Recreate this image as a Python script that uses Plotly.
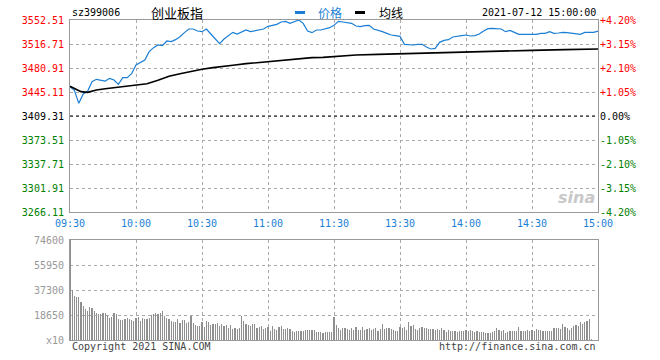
import plotly.graph_objects as go

# ---------------- data ----------------
PREV_CLOSE = 3409.31
price_ticks = [3266.11, 3301.91, 3337.71, 3373.51, 3409.31, 3445.11, 3480.91, 3516.71, 3552.51]
pct_ticks = [-4.20, -3.15, -2.10, -1.05, 0.00, 1.05, 2.10, 3.15, 4.20]
time_ticks = ["09:30", "10:00", "10:30", "11:00", "11:30", "13:30", "14:00", "14:30", "15:00"]
vol_ticks = [0, 18650, 37300, 55950, 74600]
vol_tick_text = ["x10", "18650", "37300", "55950", "74600"]

# price sampled every 2 minutes (09:30 ... 11:30, 13:02 ... 15:00)
price = [
    3453.07, 3447.60, 3428.20, 3442.13, 3446.11, 3460.53, 3464.01, 3463.01, 3461.52, 3465.50,
    3463.01, 3456.55, 3466.49, 3466.49, 3472.46, 3485.39, 3488.87, 3492.85, 3505.28, 3511.25,
    3515.22, 3514.23, 3521.19, 3520.19, 3523.18, 3527.65, 3533.62, 3539.09, 3539.09, 3536.10,
    3535.11, 3539.09, 3531.63, 3524.67, 3517.21, 3524.17, 3529.14, 3534.12, 3531.63, 3535.11,
    3537.60, 3535.11, 3536.10, 3537.60, 3539.09, 3543.06, 3545.05, 3546.05, 3549.53, 3550.52,
    3547.54, 3549.53, 3552.51, 3547.54, 3536.10, 3533.62, 3537.60, 3537.60, 3539.09, 3541.08,
    3544.56, 3550.52, 3549.53, 3548.53, 3547.54, 3543.56, 3542.57, 3544.06, 3544.56, 3539.09,
    3537.60, 3535.11, 3532.62, 3530.14, 3529.14, 3528.15, 3516.22, 3515.22, 3515.22, 3516.22,
    3516.22, 3512.24, 3509.26, 3510.25, 3519.20, 3522.18, 3523.18, 3527.15, 3527.65, 3529.14,
    3530.14, 3528.65, 3529.14, 3531.63, 3536.10, 3539.58, 3540.08, 3539.09, 3539.09, 3535.11,
    3537.10, 3534.12, 3531.13, 3531.13, 3531.13, 3531.63, 3531.13, 3532.62, 3532.62, 3535.11,
    3532.62, 3533.12, 3534.12, 3533.62, 3532.62, 3531.63, 3531.13, 3534.12, 3534.12, 3534.12,
    3536.10,
]

avg_times = ["09:30", "09:35", "09:38", "09:42", "09:46", "09:50", "09:55", "10:00", "10:05", "10:10",
             "10:15", "10:20", "10:25", "10:30", "10:35", "10:40", "10:45", "10:50", "10:55", "11:00",
             "11:05", "11:10", "11:15", "11:20", "11:25", "11:30", "13:10", "13:20", "13:30", "13:40",
             "13:50", "14:00", "14:15", "14:30", "14:45", "15:00"]
avg_price = [3453.57, 3445.61, 3444.62, 3448.09, 3450.08, 3451.58, 3453.07, 3454.56, 3457.54, 3462.52,
             3468.49, 3472.46, 3475.94, 3478.93, 3481.41, 3483.90, 3485.39, 3487.38, 3488.87, 3490.36,
             3492.85, 3494.34, 3495.33, 3496.33, 3496.82, 3498.32, 3500.31, 3501.30, 3502.29, 3502.79,
             3503.78, 3504.78, 3505.77, 3507.26, 3508.26, 3509.25]

# per-minute volume (x10), 09:30 ... 11:30
vol_am = [
    80000, 37000, 33000, 32300, 32300, 28300, 25600, 23400, 21600, 24600,
    23900, 21600, 20100, 19100, 19100, 20100, 20100, 18400, 16700, 17400,
    20100, 19400, 15700, 14900, 14700, 15400, 16700, 15700, 14700, 14200,
    16700, 17200, 14400, 16700, 15700, 15700, 16400, 18700, 19100, 20100,
    19600, 20100, 21600, 18200, 16700, 15400, 14400, 13700, 13200, 15700,
    12400, 15200, 15200, 12700, 13700, 18200, 12400, 11200, 10700, 10700,
    13700, 9700, 14200, 13400, 11400, 12200, 11900, 12700, 10400, 12200,
    10700, 11400, 9200, 11400, 8000, 9000, 8500, 8700, 17900, 14200,
    12200, 11200, 10700, 11900, 11900, 9000, 9700, 10400, 8200, 9200,
    9700, 7000, 10400, 8200, 7500, 9500, 10400, 8200, 8500, 9000,
    8200, 6700, 6200, 6700, 6700, 6700, 6700, 7500, 7500, 7500,
    7500, 7500, 6000, 5700, 5700, 5200, 6000, 6000, 6000, 5700,
    17200,
]
# per-minute volume (x10), 13:01 ... 15:00
vol_pm = [
    11200, 9000, 7500, 8700, 8700, 8200, 7500, 9000, 7500, 9700,
    7500, 7500, 9700, 7500, 8200, 9000, 7500, 8200, 9000, 6700,
    8200, 11900, 8200, 9000, 9000, 8200, 7500, 6700, 6700, 9700,
    9000, 9700, 7500, 13400, 10400, 11200, 8200, 7500, 9000, 9700,
    9000, 9000, 8200, 8200, 8200, 7500, 8200, 7500, 9000, 7500,
    6000, 7500, 6700, 6700, 6700, 6000, 6700, 6700, 6700, 7500,
    6700, 7500, 6700, 6000, 6700, 6000, 6000, 6000, 5200, 5200,
    5200, 6000, 6700, 9000, 7500, 6700, 7500, 5200, 6000, 6700,
    6700, 6700, 6700, 9700, 6700, 6700, 6700, 7500, 6700, 7500,
    6700, 8200, 7500, 7500, 6700, 6700, 6700, 6700, 6700, 9000,
    9000, 9000, 8200, 11900, 9700, 9000, 7500, 9000, 10400, 11200,
    10400, 13400, 11900, 13400, 14200, 15700, 700, 0, 0, 0,
]

# ---------------- session minute slots (axis categories) ----------------
slots = []
for i in range(121):
    t = 9 * 60 + 30 + i
    slots.append(f"{t // 60:02d}:{t % 60:02d}")
for i in range(1, 121):
    t = 13 * 60 + i
    slots.append(f"{t // 60:02d}:{t % 60:02d}")
price_times = slots[::2]
volume = vol_am + vol_pm

RED, GREEN, BLACK, BLUE, GRAY = "#ff0000", "#008000", "#000000", "#1a7fd4", "#999999"
MONO = "DejaVu Sans Mono"
CJK = "Noto Sans CJK SC"


def col_for(v, base):
    return RED if v > base else (GREEN if v < base else BLACK)


price_text = [f'<span style="color:{col_for(v, PREV_CLOSE)}">{v:.2f}</span>' for v in price_ticks]
pct_text = [f'<span style="color:{col_for(v, 0)}">{"+" if v > 0 else ""}{v:.2f}%</span>' for v in pct_ticks]

fig = go.Figure()
fig.add_trace(go.Scatter(x=price_times, y=price, mode="lines", line=dict(color=BLUE, width=1.2),
                         xaxis="x", yaxis="y", showlegend=False, hoverinfo="skip"))
fig.add_trace(go.Scatter(x=avg_times, y=avg_price, mode="lines", line=dict(color=BLACK, width=1.6),
                         xaxis="x", yaxis="y", showlegend=False, hoverinfo="skip"))
fig.add_trace(go.Scatter(x=price_times, y=[(p - PREV_CLOSE) / PREV_CLOSE * 100 for p in price],
                         mode="lines", line=dict(width=0, color="rgba(0,0,0,0)"),
                         xaxis="x", yaxis="y2", showlegend=False, hoverinfo="skip"))
fig.add_trace(go.Bar(x=slots, y=volume, width=0.5, marker=dict(color="#8f8f8f", line=dict(width=0)),
                     xaxis="x2", yaxis="y3", showlegend=False, hoverinfo="skip"))

xcommon = dict(type="category", categoryorder="array", categoryarray=slots,
               range=[0, 240], tickvals=time_ticks, ticktext=time_ticks,
               showgrid=True, gridcolor="#aaaaaa", griddash="dot", gridwidth=1,
               showline=True, linecolor=GRAY, linewidth=1, mirror=True,
               ticks="", zeroline=False, fixedrange=True)

fig.update_layout(
    width=660, height=360,
    margin=dict(l=70, r=62, t=20, b=20, autoexpand=False),
    paper_bgcolor="white", plot_bgcolor="white",
    bargap=0,
    xaxis=dict(**xcommon, anchor="y", domain=[0, 1], showticklabels=True,
               tickfont=dict(family=MONO, size=10, color=BLUE), ticklabelstandoff=2),
    xaxis2=dict(**xcommon, anchor="y3", domain=[0, 1], showticklabels=False),
    yaxis=dict(domain=[0.4, 1], range=[price_ticks[0], price_ticks[-1]], tickvals=price_ticks,
               ticktext=price_text, tickfont=dict(family=MONO, size=10),
               showgrid=True, gridcolor="#aaaaaa", griddash="dot", gridwidth=1,
               showline=True, linecolor=GRAY, linewidth=1, mirror=True, ticks="",
               zeroline=False, ticklabelstandoff=3, fixedrange=True),
    yaxis2=dict(overlaying="y", side="right", anchor="x", range=[-4.2, 4.2], tickvals=pct_ticks,
                ticktext=pct_text, tickfont=dict(family=MONO, size=10), showgrid=False,
                zeroline=False, ticks="", showline=False, ticklabelstandoff=1, fixedrange=True),
    yaxis3=dict(domain=[0, 0.3125], range=[0, 74600], tickvals=vol_ticks, ticktext=vol_tick_text,
                tickfont=dict(family=MONO, size=10, color=GRAY),
                showgrid=True, gridcolor="#aaaaaa", griddash="dot", gridwidth=1,
                showline=True, linecolor=GRAY, linewidth=1, mirror=True, ticks="",
                zeroline=False, ticklabelstandoff=3, fixedrange=True),
)

# previous close dashed line
fig.add_shape(type="line", xref="x domain", yref="y", x0=0, x1=1, y0=PREV_CLOSE, y1=PREV_CLOSE,
              line=dict(color=BLACK, width=1, dash="3px,3px"))


def px_x(px):
    return (px - 70) / 528.0


def px_y(py):
    return (340 - py) / 320.0


ann = [
    dict(text="sz399006", x=px_x(70), y=px_y(13), xanchor="left", font=dict(family=MONO, size=10, color=BLACK)),
    dict(text="创业板指", x=px_x(176.5), y=px_y(12), xanchor="center", font=dict(family=CJK, size=13, color=BLACK)),
    dict(text="价格", x=px_x(316), y=px_y(12), xanchor="left", font=dict(family=CJK, size=12, color=BLUE)),
    dict(text="均线", x=px_x(377), y=px_y(12), xanchor="left", font=dict(family=CJK, size=12, color=BLACK)),
    dict(text="2021-07-12 15:00:00", x=px_x(598), y=px_y(13), xanchor="right", font=dict(family=MONO, size=10, color=BLACK)),
    dict(text="Copyright 2021 SINA.COM", x=px_x(70), y=px_y(346), xanchor="left", font=dict(family=MONO, size=10, color="#444444")),
    dict(text="http://finance.sina.com.cn", x=px_x(598), y=px_y(346), xanchor="right", font=dict(family=MONO, size=10, color="#444444")),
    dict(text="<b><i>sina</i></b>", x=px_x(597), y=px_y(197), xanchor="right", font=dict(family="DejaVu Sans", size=16, color="#c8c8c8")),
]
for a in ann:
    fig.add_annotation(xref="paper", yref="paper", yanchor="middle", showarrow=False, **a)

# legend swatches
fig.add_shape(type="rect", xref="paper", yref="paper", x0=px_x(295), x1=px_x(305), y0=px_y(14), y1=px_y(11),
              fillcolor=BLUE, line=dict(width=0))
fig.add_shape(type="rect", xref="paper", yref="paper", x0=px_x(355), x1=px_x(365), y0=px_y(14), y1=px_y(11),
              fillcolor=BLACK, line=dict(width=0))

fig.write_html("out.html", config={"displayModeBar": False, "staticPlot": True},
               post_script="document.body.style.margin='0';")
